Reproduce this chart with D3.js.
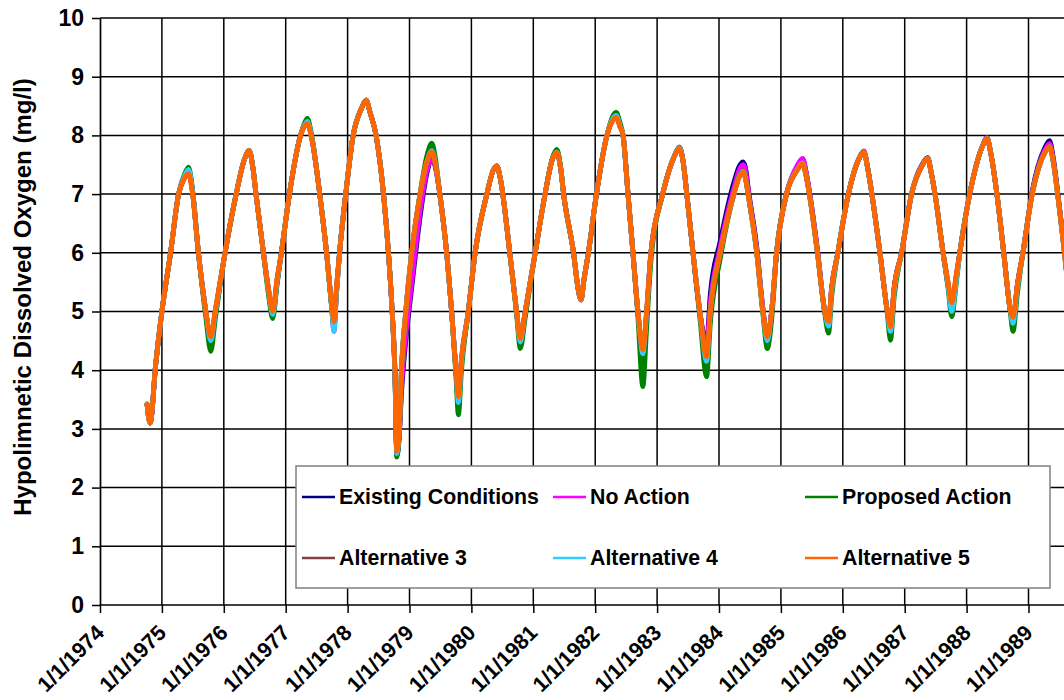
<!DOCTYPE html>
<html>
<head>
<meta charset="utf-8">
<script src="https://cdn.jsdelivr.net/npm/d3@7"></script>
<style>
  html, body { margin: 0; padding: 0; background: #fff; }
  svg { display: block; }
  text { font-family: Arial, "Liberation Sans", sans-serif; font-weight: bold; fill: #000; }
</style>
</head>
<body>
<svg id="chart" width="1064" height="700"></svg>
<script>
// ---------------- DATA ----------------
const yearTicks = [1974,1975,1976,1977,1978,1979,1980,1981,1982,1983,1984,1985,1986,1987,1988,1989];
const tickLabels = ["1/1/1974","1/1/1975","1/1/1976","1/1/1977","1/1/1978","1/1/1979","1/1/1980","1/1/1981",
                    "1/1/1982","1/1/1983","1/1/1984","1/1/1985","1/1/1986","1/1/1987","1/1/1988","1/1/1989"];
const yTicks = [0,1,2,3,4,5,6,7,8,9,10];
const yTitle = "Hypolimnetic Dissolved Oxygen (mg/l)";
const seriesNames = ["Existing Conditions","No Action","Proposed Action","Alternative 3","Alternative 4","Alternative 5"];
const seriesColors = ["#000080","#ff00ff","#008000","#804040","#33ccff","#ff6600"];

// dates as decimal years
const dates = [
 1974.76,1974.81,1974.90,1975.00,1975.14,1975.27,1975.37,1975.43,1975.49,1975.59,1975.71,1975.79,
 1975.86,1976.02,1976.20,1976.33,1976.41,1976.47,1976.52,1976.64,1976.72,1976.79,
 1976.86,1976.93,1977.06,1977.24,1977.30,1977.35,1977.42,1977.55,1977.66,1977.74,1977.78,
 1977.82,1977.87,1977.97,1978.09,1978.22,1978.30,1978.36,1978.46,1978.58,1978.66,1978.72,1978.765,1978.795,
 1978.835,1978.87,1978.94,1979.035,1979.17,1979.28,1979.36,1979.42,1979.49,1979.60,1979.68,1979.75,1979.79,
 1979.84,1979.95,1980.06,1980.25,1980.35,1980.41,1980.47,1980.62,1980.73,1980.79,
 1980.87,1981.03,1981.19,1981.31,1981.38,1981.44,1981.49,1981.65,1981.73,1981.77,
 1981.82,1981.89,1982.02,1982.19,1982.28,1982.34,1982.40,1982.45,1982.53,1982.61,1982.69,1982.77,
 1982.83,1982.90,1983.09,1983.28,1983.36,1983.42,1983.48,1983.58,1983.69,1983.80,
 1983.86,1984.02,1984.24,1984.33,1984.39,1984.44,1984.47,1984.61,1984.71,1984.78,
 1984.85,1984.93,1985.09,1985.27,1985.35,1985.41,1985.46,1985.59,1985.71,1985.77,
 1985.82,1985.92,1986.09,1986.26,1986.34,1986.40,1986.47,1986.60,1986.72,1986.77,
 1986.83,1986.95,1987.11,1987.29,1987.37,1987.43,1987.49,1987.62,1987.70,1987.76,
 1987.83,1987.89,1988.05,1988.25,1988.33,1988.39,1988.49,1988.60,1988.71,1988.75,
 1988.82,1988.91,1989.06,1989.26,1989.34,1989.40,1989.47,1989.58,1989.68
];

const existingConditions = [
 3.42,3.10,4.10,5.00,6.00,7.00,7.30,7.40,7.10,6.00,5.00,4.50,
 4.95,6.00,7.00,7.58,7.74,7.45,7.00,6.00,5.38,4.95,
 5.50,6.00,7.00,8.00,8.17,8.24,7.97,7.00,6.00,5.12,4.75,
 5.35,6.00,7.00,8.00,8.45,8.60,8.40,8.00,7.00,6.00,5.00,3.95,2.56,
 2.90,3.60,4.50,5.40,6.60,7.35,7.61,7.45,7.00,6.00,5.00,4.00,3.50,
 4.15,5.00,6.00,7.00,7.40,7.48,7.25,6.00,5.00,4.50,
 5.00,6.00,7.00,7.60,7.72,7.45,7.00,6.00,5.35,5.20,
 5.55,6.00,7.00,8.00,8.27,8.34,8.17,8.00,7.00,6.00,5.00,4.30,
 4.95,6.00,7.00,7.65,7.80,7.56,7.00,6.00,5.00,4.48,
 5.30,6.20,7.20,7.48,7.55,7.38,7.12,6.10,5.05,4.55,
 5.00,6.00,7.00,7.48,7.60,7.36,7.05,6.05,5.00,4.80,
 5.40,6.00,7.00,7.60,7.73,7.46,7.00,6.00,5.00,4.72,
 5.40,6.00,7.00,7.52,7.62,7.36,7.00,6.00,5.45,5.05,
 5.55,6.00,7.00,7.80,7.96,7.70,7.00,6.00,5.00,4.85,
 5.45,6.00,7.05,7.78,7.91,7.62,7.05,6.05,5.00
];

const noAction = [
 3.42,3.10,4.10,5.00,6.00,7.00,7.30,7.38,7.08,6.00,5.00,4.50,
 4.95,6.00,7.00,7.58,7.74,7.45,7.00,6.00,5.38,4.95,
 5.50,6.00,7.00,8.00,8.17,8.23,7.96,7.00,6.00,5.10,4.66,
 5.30,6.00,7.00,8.00,8.45,8.60,8.40,8.00,7.00,6.00,5.00,3.95,2.55,
 2.90,3.70,4.60,5.50,6.70,7.40,7.62,7.46,7.00,6.00,5.00,4.00,3.48,
 4.15,5.00,6.00,7.00,7.40,7.48,7.25,6.00,5.00,4.50,
 5.00,6.00,7.00,7.60,7.72,7.45,7.00,6.00,5.35,5.20,
 5.55,6.00,7.00,8.00,8.27,8.33,8.16,8.00,7.00,6.00,5.00,4.23,
 4.90,6.00,7.00,7.65,7.79,7.56,7.00,6.00,5.00,4.40,
 5.15,6.10,7.10,7.42,7.50,7.32,7.08,6.05,5.02,4.55,
 5.00,6.00,7.00,7.50,7.61,7.36,7.05,6.05,5.00,4.80,
 5.40,6.00,7.00,7.60,7.73,7.46,7.00,6.00,5.00,4.72,
 5.40,6.00,7.00,7.51,7.62,7.36,7.00,6.00,5.45,5.05,
 5.55,6.00,7.00,7.80,7.96,7.70,7.00,6.00,5.00,4.85,
 5.45,6.00,7.02,7.74,7.86,7.58,7.03,6.03,5.00
];

const proposedAction = [
 3.42,3.10,4.10,5.00,6.00,7.00,7.35,7.46,7.12,6.00,4.90,4.32,
 4.85,6.00,7.00,7.58,7.74,7.45,7.00,6.00,5.30,4.88,
 5.45,6.00,7.00,8.00,8.20,8.29,8.00,7.00,6.00,5.10,4.72,
 5.30,6.00,7.00,8.00,8.45,8.60,8.40,8.00,7.00,6.00,5.00,3.90,2.52,
 2.90,4.00,5.00,6.00,7.00,7.65,7.87,7.60,7.00,6.00,5.00,3.90,3.24,
 4.00,5.00,6.00,7.00,7.40,7.48,7.25,6.00,4.95,4.37,
 4.90,6.00,7.00,7.62,7.76,7.48,7.00,6.00,5.35,5.20,
 5.55,6.00,7.00,8.00,8.32,8.39,8.22,8.00,7.00,6.00,4.90,3.72,
 4.70,5.85,7.00,7.65,7.80,7.56,7.00,6.00,4.90,3.89,
 4.80,5.90,7.00,7.32,7.40,7.20,7.00,6.00,4.95,4.37,
 4.85,6.00,7.00,7.42,7.52,7.30,7.00,6.00,4.95,4.63,
 5.25,6.00,7.00,7.60,7.72,7.45,7.00,6.00,4.95,4.51,
 5.25,6.00,7.00,7.50,7.61,7.35,7.00,6.00,5.40,4.91,
 5.45,6.00,7.00,7.80,7.95,7.70,7.00,6.00,4.95,4.66,
 5.30,6.00,7.00,7.70,7.80,7.56,7.02,6.05,5.05
];

const alternative3 = [
 3.42,3.10,4.10,5.00,6.00,7.00,7.28,7.36,7.06,6.00,5.00,4.55,
 5.00,6.00,7.00,7.58,7.74,7.45,7.00,6.00,5.40,5.00,
 5.55,6.00,7.00,8.00,8.15,8.21,7.95,7.00,6.00,5.15,4.80,
 5.40,6.00,7.00,8.00,8.45,8.60,8.40,8.00,7.00,6.00,5.00,4.00,2.60,
 3.00,4.00,5.00,6.00,7.00,7.55,7.72,7.50,7.00,6.00,5.00,4.00,3.53,
 4.20,5.00,6.00,7.00,7.40,7.48,7.25,6.00,5.00,4.52,
 5.00,6.00,7.00,7.60,7.71,7.45,7.00,6.00,5.35,5.20,
 5.55,6.00,7.00,8.00,8.25,8.31,8.15,8.00,7.00,6.00,5.00,4.32,
 5.00,6.00,7.00,7.65,7.78,7.55,7.00,6.00,5.00,4.20,
 5.00,6.00,7.00,7.30,7.38,7.20,7.00,6.00,5.00,4.55,
 5.00,6.00,7.00,7.42,7.52,7.30,7.00,6.00,5.00,4.80,
 5.40,6.00,7.00,7.60,7.72,7.45,7.00,6.00,5.00,4.72,
 5.40,6.00,7.00,7.50,7.61,7.35,7.00,6.00,5.50,5.12,
 5.60,6.00,7.00,7.80,7.95,7.70,7.00,6.00,5.00,4.88,
 5.45,6.00,7.00,7.70,7.81,7.55,7.00,6.00,5.00
];

const alternative4 = [
 3.42,3.10,4.10,5.00,6.00,7.00,7.32,7.42,7.10,6.00,5.00,4.50,
 4.95,6.00,7.00,7.58,7.74,7.45,7.00,6.00,5.38,4.95,
 5.50,6.00,7.00,8.00,8.17,8.24,7.97,7.00,6.00,5.10,4.66,
 5.30,6.00,7.00,8.00,8.45,8.60,8.40,8.00,7.00,6.00,5.00,3.95,2.58,
 3.00,4.00,5.00,6.00,7.00,7.55,7.74,7.52,7.00,6.00,5.00,4.00,3.45,
 4.15,5.00,6.00,7.00,7.40,7.48,7.25,6.00,5.00,4.48,
 5.00,6.00,7.00,7.60,7.72,7.45,7.00,6.00,5.35,5.20,
 5.55,6.00,7.00,8.00,8.28,8.34,8.17,8.00,7.00,6.00,5.00,4.28,
 4.95,6.00,7.00,7.65,7.79,7.56,7.00,6.00,5.00,4.15,
 5.00,6.00,7.00,7.31,7.39,7.21,7.00,6.00,5.00,4.50,
 5.00,6.00,7.00,7.43,7.53,7.31,7.00,6.00,5.00,4.75,
 5.35,6.00,7.00,7.60,7.72,7.45,7.00,6.00,5.00,4.66,
 5.35,6.00,7.00,7.50,7.61,7.35,7.00,6.00,5.45,5.00,
 5.50,6.00,7.00,7.80,7.95,7.70,7.00,6.00,5.00,4.80,
 5.40,6.00,7.00,7.70,7.81,7.55,7.00,6.00,5.00
];

const alternative5 = [
 3.42,3.10,4.10,5.00,6.00,7.00,7.28,7.35,7.05,6.00,5.00,4.57,
 5.00,6.00,7.00,7.58,7.74,7.45,7.00,6.00,5.40,5.00,
 5.55,6.00,7.00,8.00,8.15,8.20,7.95,7.00,6.00,5.15,4.83,
 5.40,6.00,7.00,8.00,8.45,8.60,8.40,8.00,7.00,6.00,5.00,4.00,2.62,
 3.00,4.00,5.00,6.00,7.00,7.55,7.72,7.50,7.00,6.00,5.00,4.00,3.55,
 4.20,5.00,6.00,7.00,7.40,7.48,7.25,6.00,5.00,4.54,
 5.00,6.00,7.00,7.60,7.71,7.45,7.00,6.00,5.35,5.20,
 5.55,6.00,7.00,8.00,8.25,8.31,8.15,8.00,7.00,6.00,5.00,4.35,
 5.00,6.00,7.00,7.65,7.78,7.55,7.00,6.00,5.00,4.23,
 5.00,6.00,7.00,7.30,7.38,7.20,7.00,6.00,5.00,4.57,
 5.00,6.00,7.00,7.42,7.52,7.30,7.00,6.00,5.00,4.83,
 5.40,6.00,7.00,7.60,7.72,7.45,7.00,6.00,5.00,4.74,
 5.40,6.00,7.00,7.50,7.61,7.35,7.00,6.00,5.50,5.15,
 5.60,6.00,7.00,7.80,7.95,7.70,7.00,6.00,5.00,4.90,
 5.45,6.00,7.00,7.70,7.81,7.55,7.00,6.00,5.00
];

const seriesValues = [existingConditions, noAction, proposedAction, alternative3, alternative4, alternative5];

// ---------------- LAYOUT ----------------
const W = 1064, H = 700;
const plotLeft = 100, plotTop = 18, plotBottom = 605, plotRight = 1064;
const svg = d3.select("#chart");
const FONT = "Arial, 'Liberation Sans', sans-serif";

const x = d3.scaleLinear().domain([1974, 1990]).range([plotLeft, plotLeft + 16 * 61.9]);
const y = d3.scaleLinear().domain([0, 10]).range([plotBottom, plotTop]);

// grid lines
const grid = svg.append("g");
grid.selectAll("line.h").data(yTicks.filter(d => d > 0)).enter().append("line")
  .attr("x1", plotLeft).attr("x2", plotRight)
  .attr("y1", d => y(d)).attr("y2", d => y(d))
  .attr("stroke", "#000").attr("stroke-width", 1.5);
grid.selectAll("line.v").data(yearTicks.filter(d => d > 1974)).enter().append("line")
  .attr("x1", d => x(d)).attr("x2", d => x(d))
  .attr("y1", plotTop).attr("y2", plotBottom)
  .attr("stroke", "#000").attr("stroke-width", 1.5);

// axes
const yAxis = d3.axisLeft(y).tickValues(yTicks).tickFormat(d3.format("d")).tickSize(8).tickSizeOuter(0).tickPadding(8);
const gy = svg.append("g").attr("transform", `translate(${plotLeft},0)`).call(yAxis);
gy.select(".domain").attr("stroke", "#000").attr("stroke-width", 1.7);
gy.selectAll(".tick line").attr("stroke", "#000").attr("stroke-width", 1.5);
gy.selectAll(".tick text").style("font-size", "23px").style("font-weight", "bold").attr("fill", "#000")
  .attr("font-family", FONT);

const xAxis = d3.axisBottom(x).tickValues(yearTicks).tickFormat((d, i) => tickLabels[i]).tickSize(8).tickSizeOuter(0);
const gx = svg.append("g").attr("transform", `translate(0,${plotBottom})`).call(xAxis);
gx.select(".domain").attr("d", `M${plotLeft},0H${plotRight}`).attr("stroke", "#000").attr("stroke-width", 1.7);
gx.selectAll(".tick line").attr("stroke", "#000").attr("stroke-width", 1.5);
gx.selectAll(".tick text")
  .style("font-size", "21.5px").style("font-weight", "bold").attr("fill", "#000")
  .attr("font-family", FONT)
  .attr("text-anchor", "end")
  .attr("dy", null)
  .attr("y", 0)
  .attr("transform", "translate(5,29) rotate(-45)");

// y title
svg.append("text")
  .attr("transform", `translate(22,${297}) rotate(-90)`)
  .attr("text-anchor", "middle")
  .attr("dominant-baseline", "central")
  .style("font-size", "24px")
  .text(yTitle);

// series lines
const line = d3.line().x(d => x(d[0])).y(d => y(d[1])).curve(d3.curveMonotoneX);
const gLines = svg.append("g");
seriesValues.forEach((vals, i) => {
  const pts = dates.map((d, j) => [d, vals[j]]);
  gLines.append("path").datum(pts)
    .attr("d", line)
    .attr("fill", "none")
    .attr("stroke", seriesColors[i])
    .attr("stroke-width", 4.8)
    .attr("stroke-linejoin", "round")
    .attr("stroke-linecap", "round");
});

// legend
const lg = svg.append("g");
lg.append("rect").attr("x", 296).attr("y", 466).attr("width", 754).attr("height", 122)
  .attr("fill", "#fff").attr("stroke", "#808080").attr("stroke-width", 1.5);
const colX = [302, 553, 805];
const rowY = [497, 558];
seriesNames.forEach((name, i) => {
  const cx = colX[i % 3], cy = rowY[Math.floor(i / 3)];
  lg.append("line").attr("x1", cx).attr("x2", cx + 33).attr("y1", cy).attr("y2", cy)
    .attr("stroke", seriesColors[i]).attr("stroke-width", 2.5);
  lg.append("text").attr("x", cx + 37).attr("y", cy).attr("dominant-baseline", "central")
    .style("font-size", "21.3px").text(name);
});
</script>
</body>
</html>
